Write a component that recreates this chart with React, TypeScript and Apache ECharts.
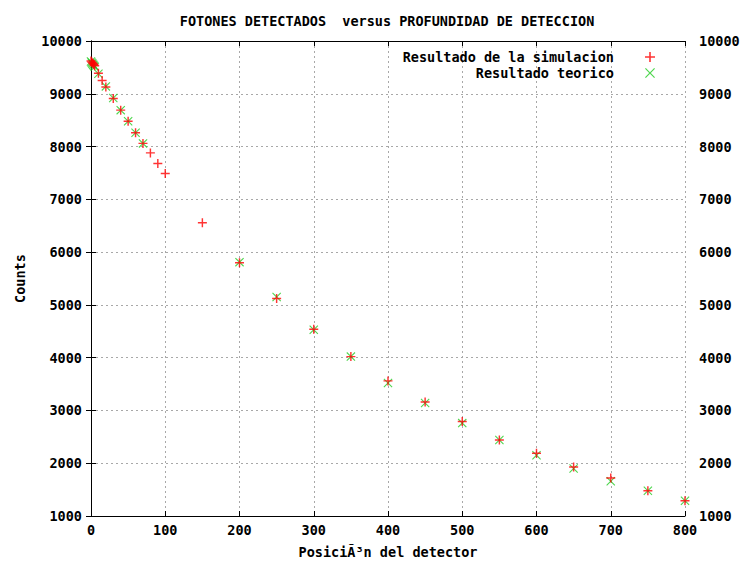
import React, { useEffect, useRef } from "react";
import * as echarts from "echarts";

const titleText = "FOTONES DETECTADOS  versus PROFUNDIDAD DE DETECCION";
const xName = "PosiciÃ³n del detector";
const yName = "Counts";
const simName = "Resultado de la simulacion";
const theoName = "Resultado teorico";

const simX = [0, 1, 2, 3, 4, 5, 10, 15, 20, 30, 40, 50, 60, 70, 80, 90, 100, 150, 200, 250, 300, 350, 400, 450, 500, 550, 600, 650, 700, 750, 800];
const simY = [9620, 9600, 9585, 9570, 9550, 9530, 9390, 9250, 9130, 8910, 8690, 8480, 8260, 8060, 7880, 7680, 7490, 6555, 5800, 5120, 4540, 4020, 3560, 3160, 2790, 2440, 2190, 1930, 1720, 1480, 1290];

const theoX = [0, 1, 2, 3, 4, 5, 10, 20, 30, 40, 50, 60, 70, 200, 250, 300, 350, 400, 450, 500, 550, 600, 650, 700, 750, 800];
const theoY = [9610, 9590, 9570, 9550, 9530, 9510, 9380, 9140, 8920, 8690, 8480, 8260, 8060, 5810, 5150, 4530, 4020, 3520, 3140, 2760, 2440, 2150, 1900, 1660, 1480, 1290];

const PLUS = "path://M4.2,0H5.8V4.2H10V5.8H5.8V10H4.2V5.8H0V4.2H4.2Z";
const CROSS = "path://M0,0.85L0.85,0L5,4.15L9.15,0L10,0.85L5.85,5L10,9.15L9.15,10L5,5.85L0.85,10L0,9.15L4.15,5Z";

const FONT = "DejaVu Sans Mono";

export default function App() {
  const ref = useRef<HTMLDivElement>(null);
  useEffect(() => {
    if (!ref.current) return;
    const chart = echarts.init(ref.current, undefined, { renderer: "svg" });
    const labelStyle = { fontFamily: FONT, fontWeight: "bold" as const, fontSize: 13.5, color: "#000" };
    const split = { show: true, lineStyle: { color: "#a8a8a8", type: [2, 3] as any, width: 1 } };
    const line = { show: true, lineStyle: { color: "#000", width: 1 } };
    const tick = { show: true, inside: true, length: 5, lineStyle: { color: "#000" } };
    const fmt = (v: number) => String(v);
    chart.setOption({
      animation: false,
      backgroundColor: "#fff",
      title: {
        text: titleText,
        left: 382,
        top: 9,
        textAlign: "center",
        textStyle: { ...labelStyle },
      },
      legend: {
        orient: "vertical",
        right: 81,
        top: 45,
        align: "right",
        itemWidth: 10,
        itemHeight: 10,
        itemGap: 2,
        textStyle: { ...labelStyle, lineHeight: 14, padding: [0, 26, 0, 0] },
        data: [
          { name: simName, icon: PLUS },
          { name: theoName, icon: CROSS },
        ],
      },
      grid: { left: 91, right: 56, top: 41, bottom: 47, containLabel: false, outerBoundsMode: "none" },
      xAxis: [
        {
          type: "value",
          position: "bottom",
          min: 0,
          max: 800,
          interval: 100,
          name: xName,
          nameLocation: "middle",
          nameGap: 29,
          nameTextStyle: { ...labelStyle },
          axisLabel: { ...labelStyle, margin: 7, formatter: fmt },
          axisLine: line,
          axisTick: tick,
          splitLine: split,
        },
        {
          type: "value",
          position: "top",
          min: 0,
          max: 800,
          interval: 100,
          axisLabel: { show: false },
          axisLine: line,
          axisTick: tick,
          splitLine: { show: false },
        },
      ],
      yAxis: [
        {
          type: "value",
          position: "left",
          min: 1000,
          max: 10000,
          interval: 1000,
          name: yName,
          nameLocation: "middle",
          nameGap: 64,
          nameTextStyle: { ...labelStyle },
          axisLabel: { ...labelStyle, margin: 9, formatter: fmt },
          axisLine: line,
          axisTick: tick,
          splitLine: split,
        },
        {
          type: "value",
          position: "right",
          min: 1000,
          max: 10000,
          interval: 1000,
          axisLabel: { ...labelStyle, margin: 14, formatter: fmt },
          axisLine: line,
          axisTick: tick,
          splitLine: { show: false },
        },
      ],
      series: [
        {
          name: simName,
          type: "scatter",
          symbol: PLUS,
          symbolSize: 9,
          itemStyle: { color: "#ff0000" },
          data: simX.map((x, i) => [x, simY[i]]),
          z: 3,
        },
        {
          name: theoName,
          type: "scatter",
          symbol: CROSS,
          symbolSize: 9,
          itemStyle: { color: "#22cc22" },
          data: theoX.map((x, i) => [x, theoY[i]]),
          z: 2,
        },
      ],
    });
    return () => chart.dispose();
  }, []);
  return <div ref={ref} style={{ width: 741, height: 563, position: "absolute", left: 0, top: 0 }} />;
}
